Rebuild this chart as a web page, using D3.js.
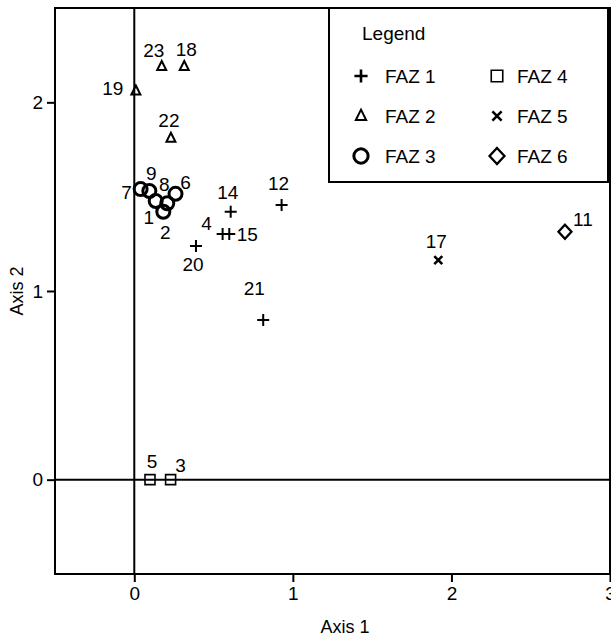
<!DOCTYPE html>
<html>
<head>
<meta charset="utf-8">
<script src="https://cdn.jsdelivr.net/npm/d3@7"></script>
<style>
  body { margin: 0; background: #fff; }
  text { font-family: "Liberation Sans", Arial, sans-serif; fill: #000; }
</style>
</head>
<body>
<div id="chart"></div>
<script>
// sample ids, ordination scores and group (FAZ) for each sample
const ids   = ['1', '2', '3', '4', '5', '6', '7', '8', '9', '11', '12', '14', '15', '17', '18', '19', '20', '21', '22', '23'];
const axis1 = [0.135, 0.183, 0.229, 0.557, 0.099, 0.26, 0.04, 0.208, 0.095, 2.716, 0.929, 0.608, 0.599, 1.917, 0.315, 0.01, 0.389, 0.813, 0.231, 0.173];
const axis2 = [1.477, 1.42, 0.0, 1.302, 0.0, 1.515, 1.54, 1.465, 1.53, 1.314, 1.456, 1.42, 1.302, 1.164, 2.19, 2.06, 1.238, 0.846, 1.81, 2.19];
const faz   = [3, 3, 4, 1, 4, 3, 3, 3, 3, 6, 1, 1, 1, 5, 2, 2, 1, 1, 2, 2];

const groups = [1, 2, 3, 4, 5, 6];
const groupNames = ['FAZ 1', 'FAZ 2', 'FAZ 3', 'FAZ 4', 'FAZ 5', 'FAZ 6'];
const xTicks = [0, 1, 2, 3];
const yTicks = [0, 1, 2];

// where each number label sits relative to its point (px)
const labelOffset = {
  '1': [-7, 16], '2': [2, 21], '3': [10, -14], '4': [-16, -11], '5': [2, -18],
  '6': [10, -11], '7': [-14, 3], '8': [-3, -19], '9': [2, -18], '11': [18, -12],
  '12': [-3, -21], '14': [-3, -19], '15': [18, 0], '17': [-2, -19], '18': [2, -17],
  '19': [-23, -3], '20': [-3, 18], '21': [-9, -32], '22': [-2, -18], '23': [-8, -16]
};

const width = 611, height = 639;
const margin = { left: 55, right: 1, top: 8, bottom: 65 };

const x = d3.scaleLinear().domain([-0.5, 3]).range([margin.left, width - margin.right]);
const y = d3.scaleLinear().domain([-0.5, 2.5]).range([height - margin.bottom, margin.top]);

// one marker shape per FAZ group
function marker(g, k) {
  const s = k || 1;
  switch (g) {
    case 1: return { d: `M${-6*s},0H${6*s}M0,${-6*s}V${6*s}`, w: 2 };
    case 2: return { d: `M0,${-5.5*s}L${4.5*s},${3.5*s}H${-4.5*s}Z`, w: 2 };
    case 3: return { d: d3.arc()({ innerRadius: 0, outerRadius: 6.5*s, startAngle: 0, endAngle: 2 * Math.PI }), w: 3 };
    case 4: return { d: `M${-5*s},${-5*s}h${10*s}v${10*s}h${-10*s}Z`, w: 1.6 };
    case 5: return { d: `M${-4*s},${-4*s}L${4*s},${4*s}M${4*s},${-4*s}L${-4*s},${4*s}`, w: 2.6 };
    case 6: return { d: `M0,${-7*s}L${6.5*s},0L0,${7*s}L${-6.5*s},0Z`, w: 2.3 };
  }
}

const svg = d3.select('#chart').append('svg')
  .attr('width', width)
  .attr('height', height);

// zero lines
svg.append('line')
  .attr('x1', x(0)).attr('x2', x(0))
  .attr('y1', y(-0.5)).attr('y2', y(2.5))
  .attr('stroke', '#000').attr('stroke-width', 2);
svg.append('line')
  .attr('x1', x(-0.5)).attr('x2', x(3))
  .attr('y1', y(0)).attr('y2', y(0))
  .attr('stroke', '#000').attr('stroke-width', 2);

// axes
const xAxis = svg.append('g')
  .attr('transform', `translate(0,${y(-0.5)})`)
  .call(d3.axisBottom(x).tickValues(xTicks).tickFormat(d3.format('d')).tickSize(8).tickPadding(5));
const yAxis = svg.append('g')
  .attr('transform', `translate(${x(-0.5)},0)`)
  .call(d3.axisLeft(y).tickValues(yTicks).tickFormat(d3.format('d')).tickSize(8).tickPadding(4));
[xAxis, yAxis].forEach(a => {
  a.select('.domain').remove();
  a.selectAll('line').attr('stroke', '#000').attr('stroke-width', 2);
  a.selectAll('text').attr('font-size', 19).attr('fill', '#000')
    .style('font-family', '"Liberation Sans", Arial, sans-serif');
});

// frame
svg.append('rect')
  .attr('x', x(-0.5)).attr('y', y(2.5))
  .attr('width', x(3) - x(-0.5)).attr('height', y(-0.5) - y(2.5))
  .attr('fill', 'none').attr('stroke', '#000').attr('stroke-width', 2);

svg.append('text')
  .attr('x', 345).attr('y', 633)
  .attr('text-anchor', 'middle').attr('font-size', 18)
  .text('Axis 1');
svg.append('text')
  .attr('transform', `translate(23,${y(1)}) rotate(-90)`)
  .attr('text-anchor', 'middle').attr('font-size', 18)
  .text('Axis 2');

// points
const pts = ids.map((id, i) => ({ id, a1: axis1[i], a2: axis2[i], g: faz[i] }));

svg.append('g').selectAll('path')
  .data(pts)
  .join('path')
  .attr('transform', d => `translate(${x(d.a1)},${y(d.a2)})`)
  .attr('d', d => marker(d.g).d)
  .attr('fill', 'none')
  .attr('stroke', '#000')
  .attr('stroke-width', d => marker(d.g).w);

svg.append('g').selectAll('text')
  .data(pts)
  .join('text')
  .attr('x', d => x(d.a1) + labelOffset[d.id][0])
  .attr('y', d => y(d.a2) + labelOffset[d.id][1])
  .attr('text-anchor', 'middle')
  .attr('dominant-baseline', 'central')
  .attr('font-size', 19)
  .text(d => d.id);

// legend
const legend = svg.append('g');
legend.append('rect')
  .attr('x', 329).attr('y', 8)
  .attr('width', 279).attr('height', 174)
  .attr('fill', '#fff').attr('stroke', '#000').attr('stroke-width', 2);
legend.append('text')
  .attr('x', 362).attr('y', 33)
  .attr('dominant-baseline', 'central')
  .attr('font-size', 19)
  .text('Legend');

const rowY = [76, 116, 156];
const colX = [361, 497];
groups.forEach((g, i) => {
  const cx = colX[Math.floor(i / 3)], cy = rowY[i % 3];
  const m = marker(g, g === 1 || g === 3 ? 1.1 : 1.15);
  legend.append('path')
    .attr('transform', `translate(${cx},${cy})`)
    .attr('d', m.d)
    .attr('fill', 'none')
    .attr('stroke', '#000')
    .attr('stroke-width', g === 1 ? 2.6 : m.w);
  legend.append('text')
    .attr('x', cx + (i < 3 ? 24 : 20)).attr('y', cy)
    .attr('dominant-baseline', 'central')
    .attr('font-size', 19)
    .text(groupNames[i]);
});
</script>
</body>
</html>
